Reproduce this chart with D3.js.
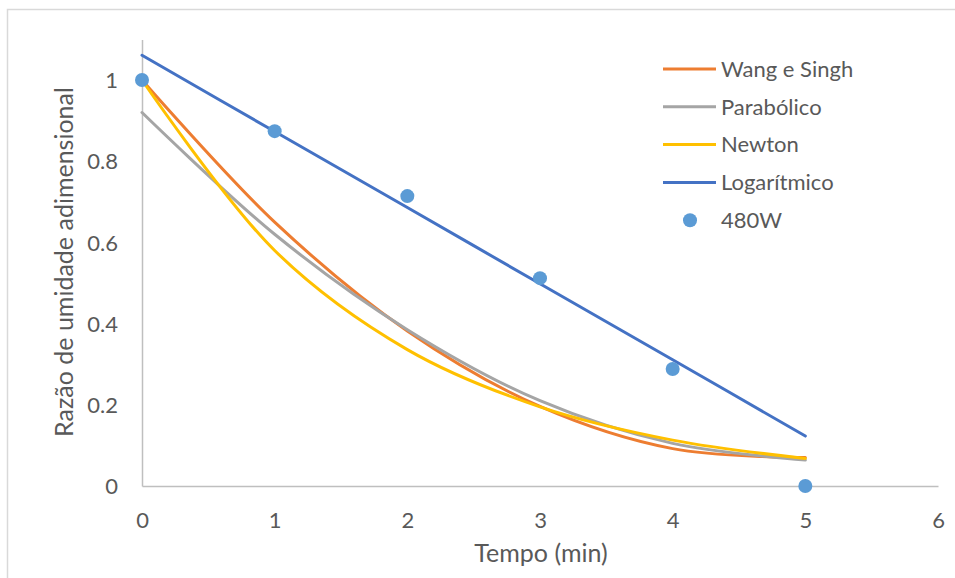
<!DOCTYPE html>
<html>
<head>
<meta charset="utf-8">
<script src="https://cdn.jsdelivr.net/npm/d3@7"></script>
<style>
  body { margin: 0; background: #fff; }
  text { font-family: Lato, "Open Sans", sans-serif; fill: #595959; }
</style>
</head>
<body>
<div id="chart"></div>
<script>
// Data
const tempo = [0, 1, 2, 3, 4, 5];
const wangSingh = [1, 0.65, 0.382, 0.196, 0.092, 0.07];
const parabolico = [0.92, 0.62, 0.385, 0.21, 0.105, 0.064];
const newton = [1, 0.58, 0.336, 0.195, 0.113, 0.068];
const logaritmico = [1.061, 0.873, 0.686, 0.498, 0.311, 0.123];
const obs480W = [1, 0.874, 0.714, 0.512, 0.288, 0];
const xTicks = [0, 1, 2, 3, 4, 5, 6];
const yTicks = [0, 0.2, 0.4, 0.6, 0.8, 1];

const series = [
  { name: 'Wang e Singh', values: wangSingh, color: '#ED7D31' },
  { name: 'Parabólico', values: parabolico, color: '#A5A5A5' },
  { name: 'Newton', values: newton, color: '#FFC000' },
  { name: 'Logarítmico', values: logaritmico, color: '#4472C4' },
];

// Dimensions
const width = 955;
const height = 578;
const plot = { left: 142, right: 938, top: 39.4, bottom: 486 };

const svg = d3.select('#chart').append('svg').attr('width', width).attr('height', height);

// chart border
svg.append('rect')
  .attr('x', 7.5).attr('y', 9.5)
  .attr('width', 1000).attr('height', 1000)
  .attr('fill', 'none').attr('stroke', '#D9D9D9').attr('stroke-width', 1.5);

const x = d3.scaleLinear().domain([0, 6]).range([plot.left, plot.right]);
const y = d3.scaleLinear().domain([0, 1.1]).range([plot.bottom, plot.top]);

// Axes
const xAxis = svg.append('g')
  .attr('transform', `translate(0,${plot.bottom})`)
  .call(d3.axisBottom(x).tickValues(xTicks).tickSize(0).tickPadding(26).tickFormat(d3.format('d')));
const yAxis = svg.append('g')
  .attr('transform', `translate(${plot.left},0)`)
  .call(d3.axisLeft(y).tickValues(yTicks).tickSize(0).tickPadding(24).tickFormat(d => d === 0 || d === 1 ? d : d.toFixed(1)));

[xAxis, yAxis].forEach(a => {
  a.select('.domain').attr('stroke', '#BFBFBF').attr('stroke-width', 1.5);
  a.selectAll('text').style('font-size', '22px').attr('fill', '#595959');
});
yAxis.selectAll('text').attr('dy', '0.35em');

// Lines
const line = d3.line()
  .x((d, i) => x(tempo[i]))
  .y(d => y(d))
  .curve(d3.curveCatmullRom.alpha(0.5));

svg.append('g')
  .selectAll('path')
  .data(series)
  .enter()
  .append('path')
  .attr('d', d => line(d.values))
  .attr('fill', 'none')
  .attr('stroke', d => d.color)
  .attr('stroke-width', 3)
  .attr('stroke-linecap', 'round');

// Observed points
svg.append('g')
  .selectAll('circle')
  .data(obs480W)
  .enter()
  .append('circle')
  .attr('cx', (d, i) => x(tempo[i]))
  .attr('cy', d => y(d))
  .attr('r', 7)
  .attr('fill', '#5B9BD5');

// Axis titles
svg.append('text')
  .attr('x', (plot.left + plot.right) / 2 + 1)
  .attr('y', 562)
  .attr('text-anchor', 'middle')
  .style('font-size', '25px')
  .text('Tempo (min)');

svg.append('text')
  .attr('transform', 'translate(73,262) rotate(-90)')
  .attr('text-anchor', 'middle')
  .style('font-size', '25px')
  .text('Razão de umidade adimensional');

// Legend
const legend = svg.append('g').attr('transform', 'translate(663,69)');
const rowH = 37.8;
series.forEach((s, i) => {
  legend.append('line')
    .attr('x1', 0).attr('x2', 53)
    .attr('y1', i * rowH).attr('y2', i * rowH)
    .attr('stroke', s.color).attr('stroke-width', 3);
  legend.append('text')
    .attr('x', 58).attr('y', i * rowH).attr('dy', '0.35em')
    .style('font-size', '22px')
    .text(s.name);
});
legend.append('circle')
  .attr('cx', 27).attr('cy', 4 * rowH).attr('r', 7).attr('fill', '#5B9BD5');
legend.append('text')
  .attr('x', 58).attr('y', 4 * rowH).attr('dy', '0.35em')
  .style('font-size', '22px')
  .text('480W');
</script>
</body>
</html>
